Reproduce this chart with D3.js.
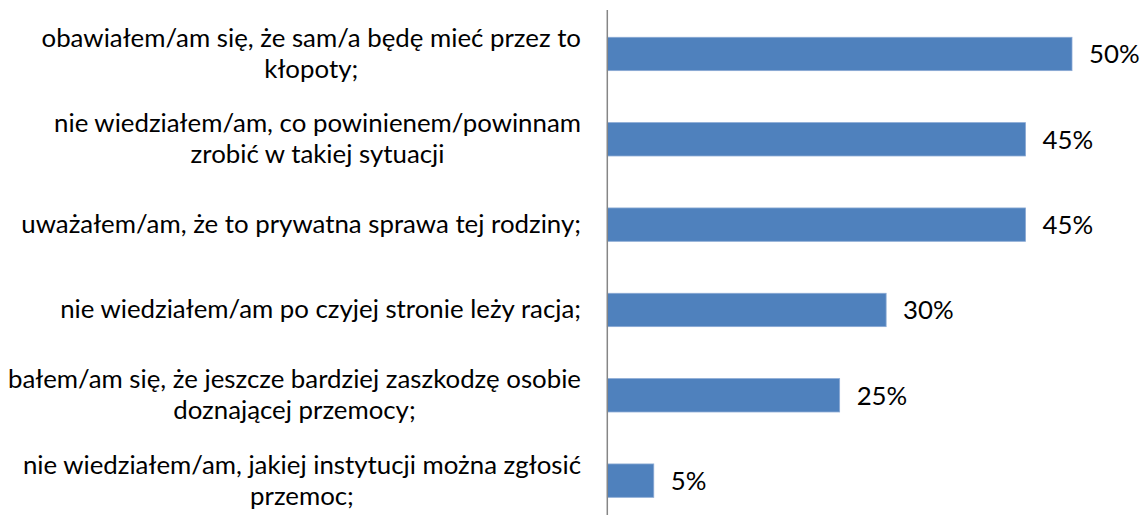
<!DOCTYPE html>
<html>
<head>
<meta charset="utf-8">
<script src="https://cdn.jsdelivr.net/npm/d3@7"></script>
<style>
  body { margin: 0; background: #fff; }
  text { font-family: Lato, "Open Sans", sans-serif; fill: #000; }
</style>
</head>
<body>
<div class="main"></div>
<script>

// categories (already broken into lines as in the picture)
const categories = [
    ["obawiałem/am się, że sam/a będę mieć przez to", "kłopoty;"],
    ["nie wiedziałem/am, co powinienem/powinnam", "zrobić w takiej sytuacji"],
    ["uważałem/am, że to prywatna sprawa tej rodziny;"],
    ["nie wiedziałem/am po czyjej stronie leży racja;"],
    ["bałem/am się, że jeszcze bardziej zaszkodzę osobie", "doznającej przemocy;"],
    ["nie wiedziałem/am, jakiej instytucji można zgłosić", "przemoc;"]
]
const values = [0.50, 0.45, 0.45, 0.30, 0.25, 0.05]
const valueLabels = ["50%", "45%", "45%", "30%", "25%", "5%"]

const data = categories.map((c, i) => ({ lines: c, value: values[i], label: valueLabels[i], id: i }))

////////////
// CANVAS //
////////////

const w = 1140
const h = 515
const lineH = 31

const svg = d3.select(".main")
    .append("svg")
    .attr("width", w)
    .attr("height", h)

// pick a font size so the longest single line is as wide as in the picture (~560px)
const probe = svg.append("text")
    .style("font-size", "25px")
    .text(categories[2][0])
const fontSize = Math.min(26, 25 * 560 / probe.node().getComputedTextLength())
probe.remove()

////////////
// SCALES //
////////////

const xScale = d3.scaleLinear()
    .domain([0, 0.5])
    .range([607.3, 1072])

const yScale = d3.scaleBand()
    .domain(data.map(d => d.id))
    .range([11.3, 523.3])
    .paddingInner(0.609)
    .paddingOuter(0.3045)

//////////
// BARS //
//////////

svg.selectAll("rect.bar")
    .data(data)
    .enter()
    .append("rect")
    .attr("class", "bar")
    .attr("x", xScale(0))
    .attr("y", d => yScale(d.id))
    .attr("width", d => xScale(d.value) - xScale(0))
    .attr("height", yScale.bandwidth())
    .attr("fill", "#4f81bd")
    .attr("stroke", "#8aa9d4")
    .attr("stroke-width", 0.8)

// value labels
svg.selectAll("text.value")
    .data(data)
    .enter()
    .append("text")
    .attr("class", "value")
    .attr("x", d => xScale(d.value) + 17)
    .attr("y", d => yScale(d.id) + yScale.bandwidth() / 2)
    .attr("dy", "0.36em")
    .style("font-size", fontSize + "px")
    .text(d => d.label)

//////////
// AXIS //
//////////

svg.append("line")
    .attr("x1", xScale(0))
    .attr("x2", xScale(0))
    .attr("y1", 10)
    .attr("y2", h)
    .attr("stroke", "#868686")
    .attr("stroke-width", 1.5)

// category labels: block right-aligned, lines centred inside the block
const labelRight = 581

const groups = svg.selectAll("g.cat")
    .data(data)
    .enter()
    .append("g")
    .attr("class", "cat")

groups.each(function (d) {
    const g = d3.select(this)
    const cy = yScale(d.id) + yScale.bandwidth() / 2
    const n = d.lines.length
    const texts = d.lines.map((line, i) => g.append("text")
        .style("font-size", fontSize + "px")
        .attr("text-anchor", "middle")
        .attr("y", cy + (i - (n - 1) / 2) * lineH)
        .attr("dy", "0.33em")
        .text(line))
    const blockW = d3.max(texts, t => t.node().getComputedTextLength())
    texts.forEach(t => t.attr("x", labelRight - blockW / 2))
})

</script>
</body>
</html>
